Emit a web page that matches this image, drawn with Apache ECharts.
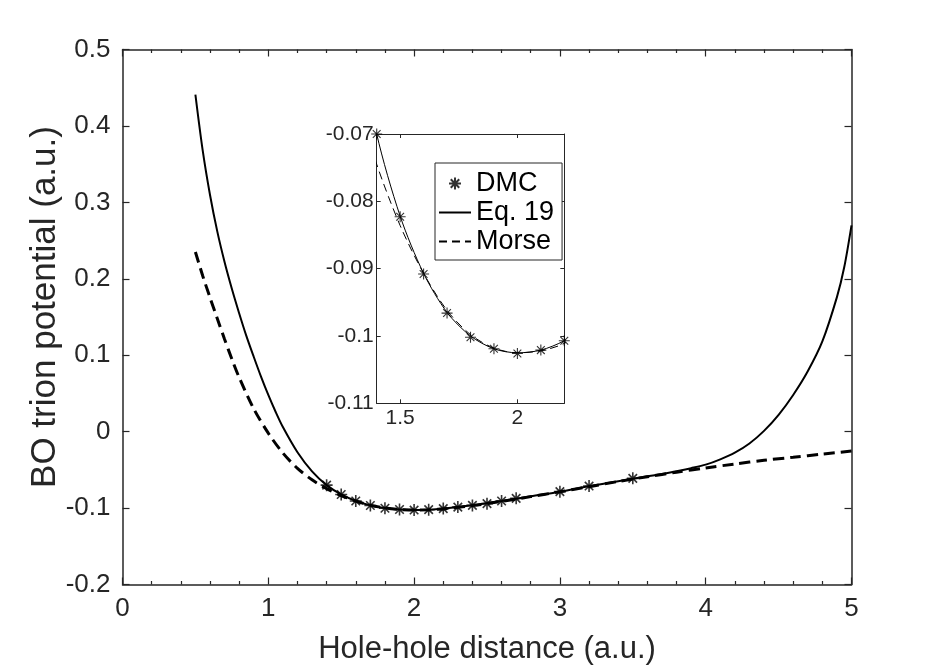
<!DOCTYPE html>
<html><head><meta charset="utf-8">
<script src="https://cdn.jsdelivr.net/npm/echarts@6/dist/echarts.min.js"></script>
<style>html,body{margin:0;padding:0;background:#fff}#c{width:941px;height:671px}</style>
</head><body><div id="c"></div>
<script>
// ---- data ----
const dmcX = [1.4,1.5,1.6,1.7,1.8,1.9,2.0,2.1,2.2,2.3,2.4,2.5,2.6,2.7,3.0,3.2,3.5];
const dmcY = [-0.0700,-0.0823,-0.0908,-0.0966,-0.1002,-0.1019,-0.1026,-0.1021,-0.1007,-0.0987,-0.0965,-0.0942,-0.0908,-0.0873,-0.0785,-0.0712,-0.0611];

const eq19X = [0.5,0.55,0.6,0.65,0.7,0.75,0.8,0.85,0.9,0.95,1.0,1.05,1.1,1.2,1.3,1.4,1.5,1.6,1.7,1.8,1.9,2.0,2.1,2.2,2.4,2.6,2.8,3.0,3.2,3.4,3.6,3.7,3.8,3.9,4.0,4.1,4.2,4.3,4.4,4.5,4.6,4.7,4.8,4.9,4.95,5.0];
const eq19Y = [0.441,0.368,0.310,0.262,0.222,0.187,0.155,0.125,0.098,0.072,0.048,0.026,0.006,-0.027,-0.052,-0.0700,-0.0822,-0.0907,-0.0965,-0.1000,-0.1019,-0.1025,-0.1021,-0.1007,-0.0964,-0.0908,-0.0845,-0.0785,-0.0715,-0.0648,-0.0585,-0.0553,-0.0518,-0.0478,-0.0432,-0.0362,-0.0275,-0.0155,0.0010,0.0220,0.0480,0.0790,0.1180,0.1760,0.2150,0.2700];

const morseX = [0.5,0.55,0.6,0.65,0.7,0.75,0.8,0.9,1.0,1.1,1.2,1.3,1.4,1.5,1.6,1.7,1.8,1.9,2.0,2.1,2.2,2.4,2.6,2.8,3.0,3.2,3.4,3.6,3.8,4.0,4.2,4.4,4.6,4.8,5.0];
const morseY = [0.235,0.204,0.1755,0.148,0.121,0.095,0.071,0.030,-0.002,-0.028,-0.048,-0.063,-0.0745,-0.0836,-0.0907,-0.0962,-0.0998,-0.1018,-0.1025,-0.1022,-0.1011,-0.0968,-0.0912,-0.0850,-0.0787,-0.0720,-0.0652,-0.0590,-0.0530,-0.0475,-0.0423,-0.0375,-0.0335,-0.0293,-0.0254];

const mainXRange = [0, 5];
const mainYRange = [-0.2, 0.5];
const insetXRange = [1.4, 2.2];
const insetYRange = [-0.11, -0.07];
const insetXTicks = [1.5, 2];
const seriesNames = ['DMC', 'Eq. 19', 'Morse'];

// ---- build ----
const pts = (xs, ys) => xs.map((x, i) => [x, ys[i]]);
const inRange = (p, r) => p[0] >= r[0] - 1e-9 && p[0] <= r[1] + 1e-9;
const INK = '#262626';
const FONT = 'Liberation Sans, Arial, Helvetica, sans-serif';
const STAR = 'path://M0,-10L0,10M-10,0L10,0M-7.07,-7.07L7.07,7.07M-7.07,7.07L7.07,-7.07';

function axisCommon(extra) {
  return Object.assign({
    axisLine: { show: true, onZero: false, lineStyle: { color: INK, width: 1.5 } },
    axisTick: { show: true, inside: true, length: 7, lineStyle: { color: INK, width: 1.2 } },
    splitLine: { show: false },
    axisLabel: { show: false }
  }, extra);
}
const insetLine = { show: true, onZero: false, lineStyle: { color: INK, width: 1 } };

const chart = echarts.init(document.getElementById('c'), null, { renderer: 'canvas' });
chart.setOption({
  backgroundColor: '#fff',
  animation: false,
  textStyle: { fontFamily: FONT },
  grid: [
    { left: 122.5, top: 49.5, width: 729, height: 535, containLabel: false },
    { left: 376.7, top: 134, width: 187.6, height: 269.3, containLabel: false }
  ],
  xAxis: [
    axisCommon({ gridIndex: 0, type: 'value', position: 'bottom', min: mainXRange[0], max: mainXRange[1], interval: 1,
      minorTick: { show: true, splitNumber: 5, length: 3.5, lineStyle: { color: INK, width: 1.2 } },
      axisLabel: { show: true, color: INK, fontSize: 26, margin: 11, fontFamily: FONT },
      name: 'Hole-hole distance (a.u.)', nameLocation: 'middle', nameGap: 49,
      nameTextStyle: { color: INK, fontSize: 31, fontFamily: FONT } }),
    axisCommon({ gridIndex: 0, type: 'value', position: 'top', min: mainXRange[0], max: mainXRange[1], interval: 1,
      minorTick: { show: true, splitNumber: 5, length: 3.5, lineStyle: { color: INK, width: 1.2 } } }),
    axisCommon({ gridIndex: 1, type: 'value', position: 'bottom', min: insetXRange[0], max: insetXRange[1],
      axisLine: insetLine,
      axisTick: { show: true, inside: true, length: 4, customValues: insetXTicks, lineStyle: { color: INK, width: 1 } },
      axisLabel: { show: true, color: INK, fontSize: 21, margin: 4, customValues: insetXTicks, fontFamily: FONT } }),
    axisCommon({ gridIndex: 1, type: 'value', position: 'top', min: insetXRange[0], max: insetXRange[1],
      axisLine: insetLine,
      axisTick: { show: true, inside: true, length: 4, customValues: insetXTicks, lineStyle: { color: INK, width: 1 } } })
  ],
  yAxis: [
    axisCommon({ gridIndex: 0, type: 'value', position: 'left', min: mainYRange[0], max: mainYRange[1], interval: 0.1,
      axisLabel: { show: true, color: INK, fontSize: 26, margin: 12, fontFamily: FONT },
      name: 'BO trion potential (a.u.)', nameLocation: 'middle', nameGap: 60, nameRotate: 90,
      nameMoveOverlap: false,
      nameTextStyle: { color: INK, fontSize: 35, fontFamily: FONT, padding: [0, 0, 0, 20] } }),
    axisCommon({ gridIndex: 0, type: 'value', position: 'right', min: mainYRange[0], max: mainYRange[1], interval: 0.1 }),
    axisCommon({ gridIndex: 1, type: 'value', position: 'left', min: insetYRange[0], max: insetYRange[1], interval: 0.01,
      axisLine: insetLine,
      axisTick: { show: true, inside: true, length: 4, lineStyle: { color: INK, width: 1 } },
      axisLabel: { show: true, color: INK, fontSize: 21, margin: 3, fontFamily: FONT } }),
    axisCommon({ gridIndex: 1, type: 'value', position: 'right', min: insetYRange[0], max: insetYRange[1], interval: 0.01,
      axisLine: insetLine,
      axisTick: { show: true, inside: true, length: 4, lineStyle: { color: INK, width: 1 } } })
  ],
  legend: {
    data: [
      seriesNames[0],
      { name: seriesNames[1], itemStyle: { opacity: 0 } },
      { name: seriesNames[2], itemStyle: { opacity: 0 } }
    ],
    orient: 'vertical',
    left: 435, top: 163,
    padding: [7, 8, 5, 3],
    itemGap: 2,
    itemWidth: 32, itemHeight: 12,
    backgroundColor: '#fff',
    borderColor: INK, borderWidth: 1,
    textStyle: { color: '#000', fontSize: 27, lineHeight: 26, fontFamily: FONT },
    selectedMode: false,
    z: 10
  },
  series: [
    { name: 'Eq. 19', type: 'line', xAxisIndex: 2, yAxisIndex: 2, data: pts(eq19X, eq19Y),
      symbol: 'none', smooth: 0.3, clip: true, z: 6,
      lineStyle: { color: '#000', width: 1, type: 'solid' }, itemStyle: { color: '#000' } },
    { name: 'Morse', type: 'line', xAxisIndex: 2, yAxisIndex: 2, data: pts(morseX, morseY),
      symbol: 'none', smooth: 0.3, clip: true, z: 6,
      lineStyle: { color: '#000', width: 1, type: [8, 5] }, itemStyle: { color: '#000' } },
    { name: 'DMC', type: 'scatter', xAxisIndex: 2, yAxisIndex: 2,
      data: pts(dmcX, dmcY).filter(p => inRange(p, insetXRange)),
      symbol: STAR, symbolSize: 11, clip: false, z: 7,
      itemStyle: { color: 'rgba(0,0,0,0)', borderColor: '#000', borderWidth: 1.1 } },
    { name: 'Eq. 19', type: 'line', xAxisIndex: 0, yAxisIndex: 0, data: pts(eq19X, eq19Y),
      symbol: 'none', smooth: 0.3, z: 2,
      lineStyle: { color: '#000', width: 2, type: 'solid' }, itemStyle: { color: '#000' } },
    { name: 'Morse', type: 'line', xAxisIndex: 0, yAxisIndex: 0, data: pts(morseX, morseY),
      symbol: 'none', smooth: 0.3, z: 2,
      lineStyle: { color: '#000', width: 3, type: [11, 6], cap: 'butt' }, itemStyle: { color: '#000' } },
    { name: 'DMC', type: 'scatter', xAxisIndex: 0, yAxisIndex: 0, data: pts(dmcX, dmcY),
      symbol: STAR, symbolSize: 12, z: 3,
      itemStyle: { color: 'rgba(0,0,0,0)', borderColor: '#000', borderWidth: 1.6 } }
  ]
});
</script>
</body></html>
